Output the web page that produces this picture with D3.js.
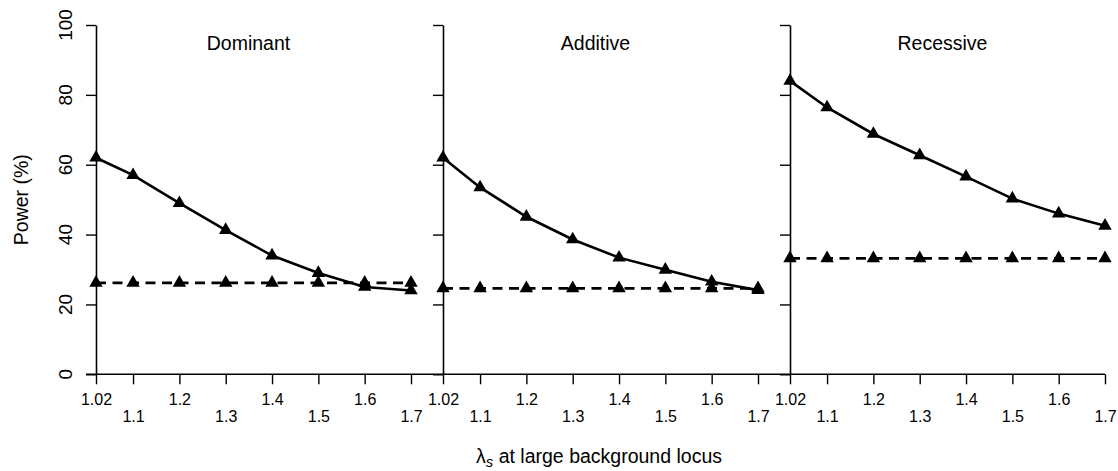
<html>

<head>
    <title>Power by lambda_s</title>
    <script src="https://d3js.org/d3.v7.min.js"></script>
    <style>
        body { margin: 0; background: #fff; }
        text { font-family: "Liberation Sans", Arial, sans-serif; fill: #000; }
    </style>
</head>

<body>
    <script>
        // values
        const lambdaS = [1.02, 1.1, 1.2, 1.3, 1.4, 1.5, 1.6, 1.7]
        const yTicks = [0, 20, 40, 60, 80, 100]
        const panelNames = ['Dominant', 'Additive', 'Recessive']

        const dominantSolid = [62, 57, 49, 41.3, 34, 29, 25, 24]
        const dominantDashed = [26.2, 26.2, 26.2, 26.2, 26.2, 26.2, 26.2, 26.2]
        const additiveSolid = [62, 53.5, 45.1, 38.6, 33.4, 29.9, 26.5, 24.1]
        const additiveDashed = [24.6, 24.6, 24.6, 24.6, 24.6, 24.6, 24.6, 24.6]
        const recessiveSolid = [84, 76.4, 68.8, 62.7, 56.6, 50.3, 46, 42.5]
        const recessiveDashed = [33.2, 33.2, 33.2, 33.2, 33.2, 33.2, 33.2, 33.2]

        const solids = [dominantSolid, additiveSolid, recessiveSolid]
        const dashes = [dominantDashed, additiveDashed, recessiveDashed]

        const svg = d3.select('body').append('svg')
            .attr('width', 1118)
            .attr('height', 471)

        const plotTop = 25, plotBottom = 374.3
        const panelW = 315, panelStep = 347, firstLeft = 96

        const y = d3.scaleLinear()
            .domain([0, 100])
            .range([plotBottom, plotTop])

        const x = d3.scaleLinear()
            .domain([1.02, 1.7])
            .range([0, panelW])

        const triangle = d3.symbol().type(d3.symbolTriangle).size(78)

        // one long baseline across all panels
        svg.append('line')
            .attr('x1', firstLeft - 10)
            .attr('x2', firstLeft + 2 * panelStep + panelW)
            .attr('y1', plotBottom)
            .attr('y2', plotBottom)
            .attr('stroke', '#000')
            .attr('stroke-width', 1.6)

        panelNames.forEach(function(name, p) {
            const g = svg.append('g')
                .attr('transform', 'translate(' + (firstLeft + p * panelStep) + ',0)')

            const yAxis = g.append('g')
                .call(d3.axisLeft(y).tickValues(yTicks).tickSize(10).tickSizeOuter(0).tickFormat(''))
            yAxis.select('.domain').attr('stroke-width', 1.6)
            yAxis.selectAll('.tick line').attr('stroke-width', 1.4)

            if (p === 0) {
                g.selectAll('.ylab')
                    .data(yTicks)
                    .enter().append('text')
                    .attr('transform', d => 'translate(-24,' + y(d) + ') rotate(-90)')
                    .attr('text-anchor', 'middle')
                    .attr('font-size', 19)
                    .text(d => d)
            }

            const xAxis = g.append('g')
                .attr('transform', 'translate(0,' + plotBottom + ')')
                .call(d3.axisBottom(x).tickValues(lambdaS).tickSize(10).tickSizeOuter(0).tickFormat(d3.format('')))
            xAxis.select('.domain').remove()
            xAxis.selectAll('.tick line').attr('stroke-width', 1.4)
            xAxis.selectAll('.tick text')
                .attr('font-size', 16)
                .attr('font-family', '"Liberation Sans", Arial, sans-serif')
                .attr('fill', '#000')
                .attr('dy', null)
                .attr('y', (d, i) => i % 2 === 0 ? 31 : 47.5)

            g.append('text')
                .attr('x', panelW / 2 - 5)
                .attr('y', 50)
                .attr('text-anchor', 'middle')
                .attr('font-size', 19.5)
                .text(name)

            const line = d3.line()
                .x((d, i) => x(lambdaS[i]))
                .y(d => y(d))

            g.append('path')
                .datum(dashes[p])
                .attr('d', line)
                .attr('fill', 'none')
                .attr('stroke', '#000')
                .attr('stroke-width', 2.8)
                .attr('stroke-dasharray', '10,6.5')

            g.append('path')
                .datum(solids[p])
                .attr('d', line)
                .attr('fill', 'none')
                .attr('stroke', '#000')
                .attr('stroke-width', 2.6)

            dashes[p].concat(solids[p]).forEach(function(v, i) {
                g.append('path')
                    .attr('d', triangle)
                    .attr('transform', 'translate(' + x(lambdaS[i % lambdaS.length]) + ',' + y(v) + ')')
                    .attr('fill', '#000')
            })
        })

        svg.append('text')
            .attr('transform', 'translate(28,' + ((plotTop + plotBottom) / 2) + ') rotate(-90)')
            .attr('text-anchor', 'middle')
            .attr('font-size', 19.5)
            .text('Power (%)')

        const xlab = svg.append('text')
            .attr('x', 599)
            .attr('y', 463)
            .attr('text-anchor', 'middle')
            .attr('font-size', 19.5)
        xlab.append('tspan').text('λ')
        xlab.append('tspan')
            .attr('font-size', 15)
            .attr('font-style', 'italic')
            .attr('dy', 4)
            .text('s')
        xlab.append('tspan')
            .attr('dy', -4)
            .text(' at large background locus')
    </script>
</body>

</html>
